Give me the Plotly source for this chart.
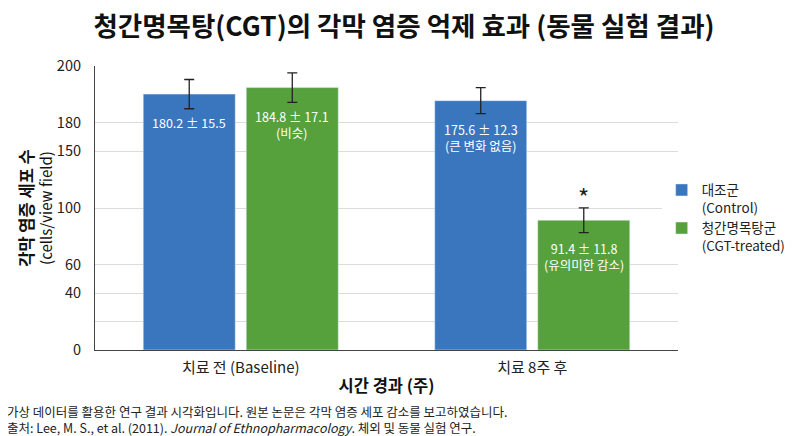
import plotly.graph_objects as go

# data
categories = ["치료 전 (Baseline)", "치료 8주 후"]
control_vals = [180.2, 175.6]
control_err = [10.3, 9.2]
control_text = ["180.2 ± 15.5", "175.6 ± 12.3<br>(큰 변화 없음)"]
cgt_vals = [184.8, 91.4]
cgt_err = [10.4, 8.7]
cgt_text = ["184.8 ± 17.1<br>(비슷)", "91.4 ± 11.8<br>(유의미한 감소)"]
sig_marks = ["", "*"]

ytick_vals = [0, 20, 40, 60, 100, 140, 160, 200]
ytick_text = ["0", "", "40", "60", "100", "150", "180", "200"]

note_lines = [
    "가상 데이터를 활용한 연구 결과 시각화입니다. 원본 논문은 각막 염증 세포 감소를 보고하였습니다.",
    "출처: Lee, M. S., et al. (2011). <i>Journal of Ethnopharmacology</i>. 체외 및 동물 실험 연구.",
]

FONT = "Noto Sans CJK KR"
BLUE = "#3a76be"
GREEN = "#56a13c"

fig = go.Figure()
fig.add_trace(go.Bar(
    x=categories, y=control_vals, name="대조군<br>(Control)",
    marker_color=BLUE,
    error_y=dict(type="data", array=control_err, color="#222", thickness=1.3, width=5),
))
fig.add_trace(go.Bar(
    x=categories, y=cgt_vals, name="청간명목탕군<br>(CGT-treated)",
    marker_color=GREEN,
    error_y=dict(type="data", array=cgt_err, color="#222", thickness=1.3, width=5),
))

# value labels inside the bars, a little below each bar's top
slot_px = 51.5
for cat, v, t in zip(categories, control_vals, control_text):
    fig.add_annotation(x=cat, y=v, text=t, showarrow=False, yanchor="top",
                       xshift=-slot_px, yshift=-17,
                       font=dict(family=FONT, size=12.5, color="white"))
for cat, v, e, t, s in zip(categories, cgt_vals, cgt_err, cgt_text, sig_marks):
    fig.add_annotation(x=cat, y=v, text=t, showarrow=False, yanchor="top",
                       xshift=slot_px, yshift=-17,
                       font=dict(family=FONT, size=12.5, color="white"))
    if s:
        fig.add_annotation(x=cat, y=v + e, text=s, showarrow=False, yanchor="bottom",
                           xshift=slot_px, yshift=-8,
                           font=dict(family=FONT, size=24, color="#222"))

for line, ny in zip(note_lines, [-0.2148, -0.2746]):
    fig.add_annotation(
        xref="paper", yref="paper", x=-0.153, y=ny, xanchor="left", yanchor="middle",
        align="left", showarrow=False, text=line, borderpad=0,
        font=dict(family=FONT, size=12.5, color="#222"),
    )

# page has an 8px body margin, so the figure is 8px smaller on each axis
fig.update_layout(
    width=792, height=428,
    paper_bgcolor="white", plot_bgcolor="white",
    margin=dict(l=87, r=122, t=58, b=86, autoexpand=False),
    font=dict(family=FONT, color="#222"),
    title=dict(text="<b>청간명목탕(CGT)의 각막 염증 억제 효과 (동물 실험 결과)</b>",
               x=0.5, xanchor="center", y=0.957, yanchor="middle",
               font=dict(family=FONT, size=26.5, color="#111")),
    barmode="group", bargap=0.293, bargroupgap=0.107,
    showlegend=True,
    legend=dict(x=0.972, y=0.509, xref="paper", yref="container",
                xanchor="left", yanchor="middle",
                font=dict(family=FONT, size=13.5, color="#222"),
                tracegroupgap=8, valign="top", itemwidth=30),
    xaxis=dict(
        showline=True, linecolor="#444", linewidth=1.2,
        ticks="", ticklabelstandoff=4,
        tickfont=dict(family=FONT, size=15, color="#222"),
        title=dict(text="<b>시간 경과 (주)</b>", standoff=4,
                   font=dict(family=FONT, size=16.5, color="#111")),
    ),
    yaxis=dict(
        range=[0, 200], tickvals=ytick_vals, ticktext=ytick_text,
        showline=True, linecolor="#444", linewidth=1.2,
        showgrid=True, gridcolor="#dcdcdc", gridwidth=1,
        zeroline=False, ticks="", ticklabelstandoff=10,
        tickfont=dict(family=FONT, size=14.5, color="#222"),
        title=dict(text="<b><span style='font-size:16.5px'>각막 염증 세포 수</span></b><br>(cells/view field)",
                   standoff=0,
                   font=dict(family=FONT, size=15, color="#111")),
    ),
)

fig.write_html("out.html")
